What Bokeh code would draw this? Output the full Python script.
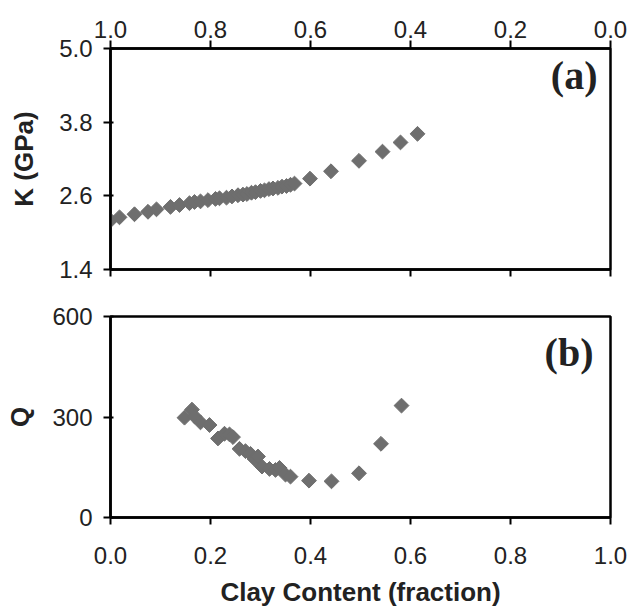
import numpy as np
from bokeh.plotting import figure
from bokeh.models import (Range1d, LinearAxis, FixedTicker, Label, ColumnDataSource,
                          PrintfTickFormatter, CustomLabelingPolicy)
from bokeh.layouts import column
from bokeh.embed import file_html
from bokeh.resources import INLINE

# Panel (a): K vs top-axis fraction (reversed axis 1.0 -> 0.0)
k_frac = [1.000, 0.982, 0.952, 0.925, 0.908, 0.880, 0.862, 0.842, 0.832, 0.820,
          0.805, 0.790, 0.782, 0.768, 0.757, 0.745, 0.735, 0.727, 0.718, 0.710,
          0.700, 0.692, 0.683, 0.675, 0.665, 0.657, 0.648, 0.640, 0.632, 0.601,
          0.559, 0.503, 0.456, 0.420, 0.386]
k_gpa = [2.20, 2.25, 2.30, 2.34, 2.38, 2.42, 2.45, 2.48, 2.50, 2.51,
         2.53, 2.55, 2.56, 2.57, 2.59, 2.61, 2.62, 2.63, 2.65, 2.66,
         2.68, 2.69, 2.71, 2.72, 2.73, 2.75, 2.76, 2.78, 2.80, 2.88,
         3.00, 3.17, 3.32, 3.47, 3.61]

# Panel (b): Q vs clay content
clay = [0.148, 0.163, 0.168, 0.180, 0.198, 0.215, 0.228, 0.238, 0.245, 0.258,
        0.270, 0.280, 0.288, 0.295, 0.303, 0.318, 0.330, 0.338, 0.350, 0.360,
        0.397, 0.442, 0.497, 0.541, 0.582]
q_vals = [298, 322, 302, 284, 276, 236, 250, 248, 240, 205,
          198, 190, 175, 182, 152, 145, 142, 148, 128, 122,
          110, 108, 132, 220, 334]

x_ticks = [0.0, 0.2, 0.4, 0.6, 0.8, 1.0]
k_ticks = [1.4, 2.6, 3.8, 5.0]
q_ticks = [0, 300, 600]

GRAY = "#6e6e6e"
TICK_FONT = "Liberation Sans"
TFS = "24px"
LFS = "26px"


def style_axis(ax, ticks, tick_out=7, tick_in=0, standoff=11, fmt=None):
    ax.ticker = FixedTicker(ticks=ticks)
    if fmt:
        ax.formatter = PrintfTickFormatter(format=fmt)
    ax.axis_line_color = "black"
    ax.axis_line_width = 2.5
    ax.major_tick_line_color = "black"
    ax.major_tick_line_width = 2
    ax.major_tick_out = tick_out
    ax.major_tick_in = tick_in
    ax.minor_tick_line_color = None
    ax.major_label_text_font = TICK_FONT
    ax.major_label_text_font_size = TFS
    ax.major_label_text_color = "#222222"
    ax.major_label_standoff = standoff
    ax.axis_label_text_font = TICK_FONT
    ax.axis_label_text_font_size = LFS
    ax.axis_label_text_font_style = "bold"
    ax.axis_label_text_color = "#222222"


# ---------- top panel ----------
p1 = figure(width=628, height=289, x_range=Range1d(1.0, 0.0), y_range=Range1d(1.4, 5.0),
            x_axis_location="above", output_backend="svg", toolbar_location=None,
            min_border_left=110, min_border_right=18, min_border_top=48, min_border_bottom=20)
p1.grid.visible = False
p1.outline_line_color = "black"
p1.outline_line_width = 2.5
style_axis(p1.xaxis[0], x_ticks, tick_out=8, standoff=3, fmt="%.1f")
style_axis(p1.yaxis[0], k_ticks, tick_out=7, tick_in=3, standoff=11, fmt="%.1f")
p1.yaxis[0].axis_label = "K (GPa)"
p1.yaxis[0].axis_label_standoff = 17
bax = LinearAxis()
style_axis(bax, x_ticks, tick_out=7, standoff=0, fmt="%.1f")
bax.major_label_text_font_size = "2px"
bax.major_label_policy = CustomLabelingPolicy(code="return new Set()")
p1.add_layout(bax, "below")

src1 = ColumnDataSource(dict(x=k_frac, y=k_gpa))
p1.scatter("x", "y", source=src1, marker="square", angle=np.pi / 4, size=10.5,
           fill_color=GRAY, line_color=GRAY)
p1.add_layout(Label(x=0.026, y=4.56, text="(a)", text_align="right", text_baseline="middle",
                    text_font="Liberation Serif", text_font_style="bold",
                    text_font_size="40px", text_color="#222222"))

# ---------- bottom panel ----------
p2 = figure(width=628, height=321, x_range=Range1d(0.0, 1.0), y_range=Range1d(0, 600),
            output_backend="svg", toolbar_location=None,
            min_border_left=110, min_border_right=18, min_border_top=27, min_border_bottom=93)
p2.grid.visible = False
p2.outline_line_color = "black"
p2.outline_line_width = 2.5
style_axis(p2.xaxis[0], x_ticks, tick_out=7, standoff=22, fmt="%.1f")
p2.xaxis[0].axis_label = "Clay Content (fraction)"
p2.xaxis[0].axis_label_standoff = 10
style_axis(p2.yaxis[0], q_ticks, tick_out=7, tick_in=3, standoff=11)
p2.yaxis[0].axis_label = "Q"
p2.yaxis[0].axis_label_standoff = 14

src2 = ColumnDataSource(dict(x=clay, y=q_vals))
p2.scatter("x", "y", source=src2, marker="square", angle=np.pi / 4, size=10.5,
           fill_color=GRAY, line_color=GRAY)
p2.add_layout(Label(x=0.966, y=493, text="(b)", text_align="right", text_baseline="middle",
                    text_font="Liberation Serif", text_font_style="bold",
                    text_font_size="40px", text_color="#222222"))

layout = column(p1, p2, spacing=0)
open("out.html", "w").write(file_html(layout, INLINE))
